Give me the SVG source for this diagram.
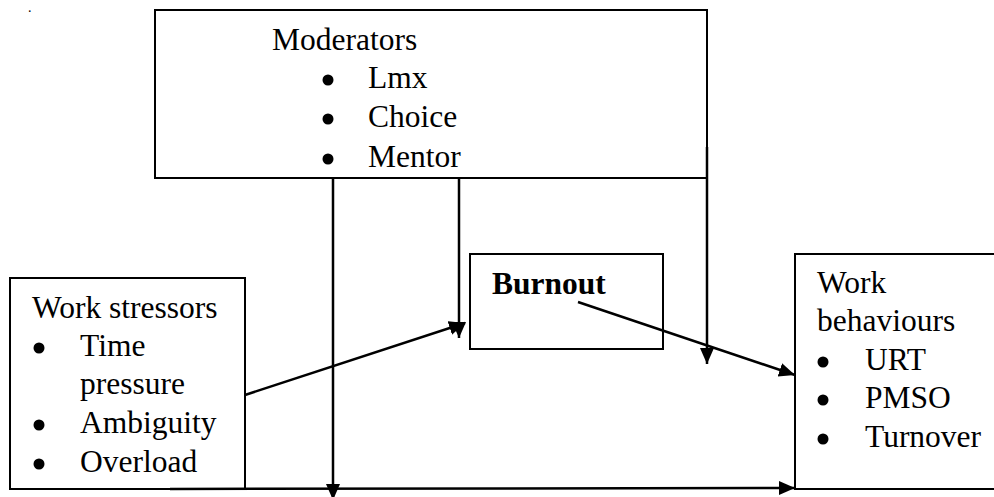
<svg xmlns="http://www.w3.org/2000/svg" width="994" height="497" viewBox="0 0 994 497">
  <defs>
    <marker id="arrow" markerUnits="userSpaceOnUse" markerWidth="17" markerHeight="15" refX="16" refY="7" orient="auto">
      <path d="M0,0 L16,7 L0,14 z" fill="#000"/>
    </marker>
  </defs>
  <style>
    .box { fill: #fff; stroke: #000; stroke-width: 2; }
    .t { font-family: "Liberation Serif", "Times New Roman", serif; font-size: 31.5px; fill: #000; }
    .b { font-weight: bold; }
    .dot { fill: #000; }
    .conn { fill: none; stroke: #000; stroke-width: 2.5; }
  </style>
  <rect width="994" height="497" fill="#fff"/>
  <text class="t" x="28" y="12" style="font-size:14px">.</text>

  <g id="moderators">
    <rect class="box" x="155" y="10" width="552" height="168"/>
    <text class="t" x="272" y="50">Moderators</text>
    <circle class="dot" cx="328" cy="80" r="5.5"/>
    <text class="t" x="368" y="88">Lmx</text>
    <circle class="dot" cx="328" cy="119" r="5.5"/>
    <text class="t" x="368" y="127">Choice</text>
    <circle class="dot" cx="328" cy="159" r="5.5"/>
    <text class="t" x="368" y="167">Mentor</text>
  </g>

  <g id="work-stressors">
    <rect class="box" x="10" y="278" width="235" height="211"/>
    <text class="t" x="32" y="318">Work stressors</text>
    <circle class="dot" cx="39" cy="348" r="5.5"/>
    <text class="t" x="80" y="356">Time</text>
    <text class="t" x="80" y="394">pressure</text>
    <circle class="dot" cx="39" cy="425" r="5.5"/>
    <text class="t" x="80" y="433">Ambiguity</text>
    <circle class="dot" cx="39" cy="464" r="5.5"/>
    <text class="t" x="80" y="472">Overload</text>
  </g>

  <g id="burnout">
    <rect class="box" x="470" y="254" width="193" height="95"/>
    <text class="t b" x="492" y="294">Burnout</text>
  </g>

  <g id="work-behaviours">
    <rect class="box" x="795" y="254" width="210" height="235"/>
    <text class="t" x="817" y="293">Work</text>
    <text class="t" x="817" y="331">behaviours</text>
    <circle class="dot" cx="823" cy="362" r="5.5"/>
    <text class="t" x="865" y="370">URT</text>
    <circle class="dot" cx="823" cy="400" r="5.5"/>
    <text class="t" x="865" y="408">PMSO</text>
    <circle class="dot" cx="823" cy="439" r="5.5"/>
    <text class="t" x="865" y="447">Turnover</text>
  </g>

  <g id="connectors">
    <path class="conn" d="M170,489 L795,488" marker-end="url(#arrow)"/>
    <path class="conn" d="M333,178 V500" marker-end="url(#arrow)"/>
    <path class="conn" d="M459,178 V338" marker-end="url(#arrow)"/>
    <path class="conn" d="M707,147 V364" marker-end="url(#arrow)"/>
    <path class="conn" d="M245,395 L465,323" marker-end="url(#arrow)"/>
    <path class="conn" d="M578,302 L795,375" marker-end="url(#arrow)"/>
  </g>
</svg>
